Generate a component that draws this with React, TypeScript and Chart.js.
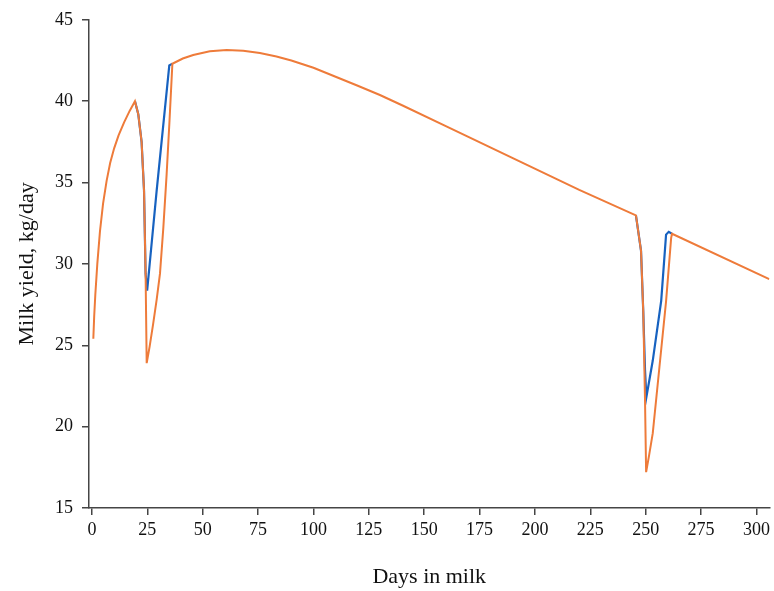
import { useEffect, useRef } from 'react';
import { Chart, registerables } from 'chart.js';

Chart.register(...registerables);

// Orange series (drawn on top)
const orangeDays = [
  0.6, 1.0, 1.5, 2.4, 3.6, 5.0, 6.6, 8.2, 10, 12, 14.5, 17, 19.4,
  20.9, 22.4, 23.5, 24.2, 24.7,
  26, 27.6, 29.2, 30.7, 32.2, 33.7, 35, 36.3,
  41, 45.7, 53.2, 60.8, 68.3, 75.8, 83.3, 90, 100, 110, 120, 130, 140, 160, 190, 220, 245.6,
  247.9, 248.9, 249.7, 250.2,
  251.5, 253.2, 256.2, 259.2, 261.5, 261.9,
  305.8,
];
const orangeYield = [
  25.4, 26.8, 28.1, 30.0, 32.0, 33.7, 35.1, 36.2, 37.1, 37.9, 38.7, 39.4, 40.0,
  39.2, 37.5, 34.5, 29.4, 23.9,
  24.9, 26.3, 27.8, 29.4, 32.2, 35.5, 38.8, 42.3,
  42.62, 42.84, 43.07, 43.14, 43.1, 42.96, 42.75, 42.5, 42.05, 41.5, 40.95, 40.38, 39.75, 38.45, 36.5, 34.55, 32.98,
  30.8, 27.1, 21.6, 17.2,
  18.2, 19.6, 23.65, 27.7, 31.6, 31.85,
  29.06,
];

// Blue series (visible only where it departs from the orange one)
const blueDays = [
  19.4, 20.9, 22.4, 23.5, 24.2, 24.9, 29.2, 34.9, 36.3,
  100,
  245.6, 247.9, 248.9, 249.7, 250.3, 253.2, 257.0, 259.2, 260.4, 261.9,
];
const blueYield = [
  40.0, 39.2, 37.5, 34.5, 29.4, 28.35, 34.5, 42.2, 42.3,
  null,
  32.98, 30.8, 27.1, 23.5, 21.8, 24.06, 27.73, 31.8, 31.97, 31.85,
];

const xTickValues = [0, 25, 50, 75, 100, 125, 150, 175, 200, 225, 250, 275, 300];
const yTickValues = [15, 20, 25, 30, 35, 40, 45];

export default function App() {
  const ref = useRef<HTMLCanvasElement>(null);

  useEffect(() => {
    document.body.style.margin = '0';
    const family = "'Liberation Serif', 'Times New Roman', serif";
    const axisColor = '#454545';
    const chart = new Chart(ref.current as HTMLCanvasElement, {
      type: 'line',
      data: {
        datasets: [
          {
            label: 'Orange',
            data: orangeDays.map((d, i) => ({ x: d, y: orangeYield[i] })),
            borderColor: '#EE7B3A',
            borderWidth: 2,
            pointRadius: 0,
            tension: 0,
            fill: false,
          },
          {
            label: 'Blue',
            data: blueDays.map((d, i) => ({ x: d, y: blueYield[i] as any })),
            borderColor: '#1762C0',
            borderWidth: 2.2,
            pointRadius: 0,
            tension: 0,
            fill: false,
            spanGaps: false,
          },
        ],
      },
      options: {
        animation: false,
        responsive: false,
        maintainAspectRatio: false,
        layout: { padding: { top: 18, right: 4, left: 0, bottom: 0 } },
        plugins: { legend: { display: false }, tooltip: { enabled: false } },
        scales: {
          x: {
            type: 'linear',
            min: -1.35,
            max: 305.9,
            afterBuildTicks: (s: any) => {
              s.ticks = xTickValues.map((v) => ({ value: v }));
            },
            afterFit: (s: any) => {
              s.height = 83;
            },
            grid: {
              display: true,
              drawOnChartArea: false,
              drawTicks: true,
              tickLength: 7,
              color: axisColor,
              lineWidth: 1.5,
            },
            border: { display: true, color: axisColor, width: 1.5 },
            ticks: {
              font: { family, size: 18 },
              color: '#111',
              padding: 4,
              maxRotation: 0,
              autoSkip: false,
            },
            title: {
              display: true,
              text: 'Days in milk',
              font: { family, size: 22 },
              color: '#111',
              padding: { top: 0, bottom: 1 },
            },
          },
          y: {
            type: 'linear',
            min: 15,
            max: 45,
            afterBuildTicks: (s: any) => {
              s.ticks = yTickValues.map((v) => ({ value: v }));
            },
            afterFit: (s: any) => {
              s.width = 89;
            },
            grid: {
              display: true,
              drawOnChartArea: false,
              drawTicks: true,
              tickLength: 7,
              color: axisColor,
              lineWidth: 1.5,
            },
            border: { display: true, color: axisColor, width: 1.5 },
            ticks: {
              font: { family, size: 18 },
              color: '#111',
              padding: 9,
              autoSkip: false,
            },
            title: {
              display: true,
              text: 'Milk yield, kg/day',
              font: { family, size: 22 },
              color: '#111',
              padding: { top: 14, bottom: 0 },
            },
          },
        },
      },
    });
    return () => chart.destroy();
  }, []);

  return <canvas ref={ref} width={774} height={591} style={{ display: 'block' }} />;
}
